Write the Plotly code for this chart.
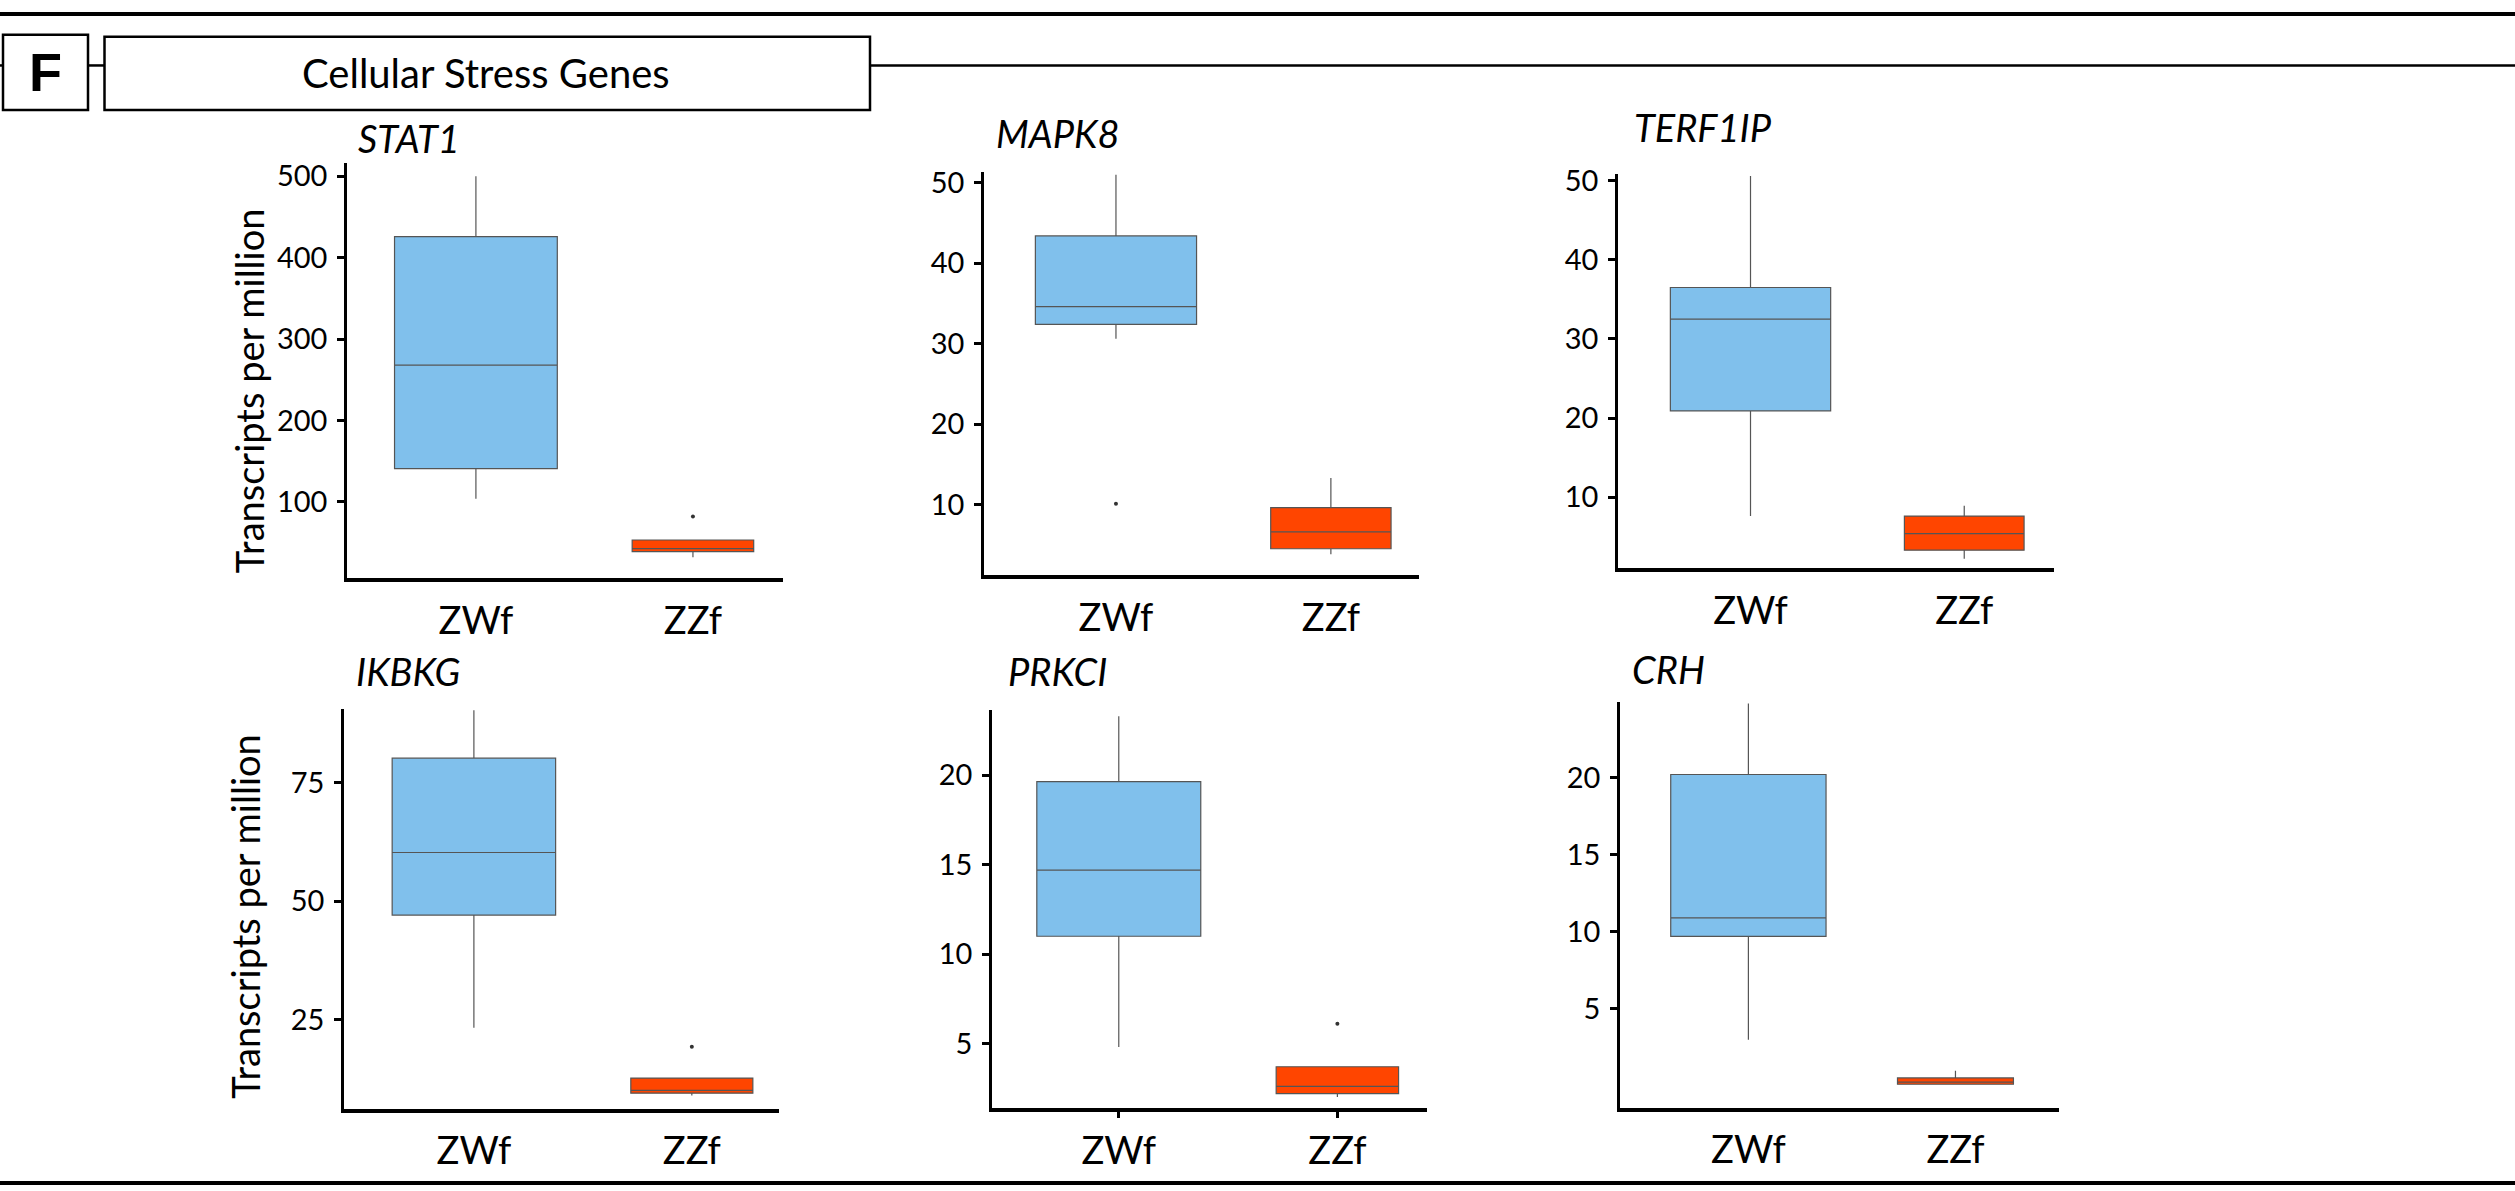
import plotly.graph_objects as go

W, H = 2515, 1191

# ---------------- data ----------------
genes = ["STAT1", "MAPK8", "TERF1IP", "IKBKG", "PRKCI", "CRH"]
groups = ["ZWf", "ZZf"]

zwf_lower = [104, 30.6, 7.6, 23.3, 4.8, 3.0]
zwf_q1 = [141, 32.4, 20.9, 47.1, 11.0, 9.7]
zwf_median = [268, 34.6, 32.5, 60.3, 14.7, 10.9]
zwf_q3 = [426, 43.4, 36.5, 80.2, 19.65, 20.2]
zwf_upper = [500, 51.0, 50.6, 90.3, 23.3, 24.8]

zzf_lower = [32, 3.8, 2.2, 9.0, 2.0, 0.1]
zzf_q1 = [39, 4.5, 3.3, 9.5, 2.2, 0.12]
zzf_median = [42.7, 6.6, 5.4, 10.1, 2.6, 0.26]
zzf_q3 = [53.3, 9.6, 7.6, 12.7, 3.7, 0.53]
zzf_upper = [53.3, 13.3, 8.9, 12.7, 3.7, 1.0]

zwf_outliers = [[], [10.1], [], [], [], []]
zzf_outliers = [[82], [], [], [19.3], [6.1], []]

y_tickvals = [
    [100, 200, 300, 400, 500],
    [10, 20, 30, 40, 50],
    [10, 20, 30, 40, 50],
    [25, 50, 75],
    [5, 10, 15, 20],
    [5, 10, 15, 20],
]
y_ranges = [[6.3, 515.8], [1.2, 51.3], [1.0, 50.8], [6.2, 90.6], [1.4, 23.66], [-1.41, 24.9]]
x_ranges = [[-0.594, 1.415], [-0.614, 1.41], [-0.62, 1.42], [-0.596, 1.40], [-0.58, 1.41], [-0.62, 1.5]]

panel_title = "Cellular Stress Genes"
panel_letter = "F"
y_title = "Transcripts per million"

# ---------------- layout constants (pixels) ----------------
# panel plot-area boxes: x0, x1, ytop, ybottom
boxes_px = [
    (347, 783, 153, 572),
    (984, 1419, 162, 569),
    (1618, 2054, 164, 562),
    (344, 779, 704, 1108),
    (992, 1427, 705, 1107),
    (1620, 2059, 697, 1107),
]
title_px = [(356, 127), (994, 122), (1632, 116), (354, 666), (1006, 666), (1630, 664)]
ylabel_px = [(249, 383), (245, 914)]

BLUE = "#80C0EC"
RED = "#FF4500"
EDGE = "#555555"
FONT = "Lato"

def px(x):
    return x / W

def py(y):
    return 1 - y / H

fig = go.Figure()

for i in range(6):
    xa = "x" if i == 0 else f"x{i+1}"
    ya = "y" if i == 0 else f"y{i+1}"
    fig.add_trace(go.Box(
        x=[groups[0]], q1=[zwf_q1[i]], median=[zwf_median[i]], q3=[zwf_q3[i]],
        lowerfence=[zwf_lower[i]], upperfence=[zwf_upper[i]],
        width=0.75, fillcolor=BLUE, line=dict(color=EDGE, width=1.2),
        whiskerwidth=0, boxpoints=False, xaxis=xa, yaxis=ya, hoverinfo="skip",
    ))
    fig.add_trace(go.Box(
        x=[groups[1]], q1=[zzf_q1[i]], median=[zzf_median[i]], q3=[zzf_q3[i]],
        lowerfence=[zzf_lower[i]], upperfence=[zzf_upper[i]],
        width=0.56, fillcolor=RED, line=dict(color=EDGE, width=1.2),
        whiskerwidth=0, boxpoints=False, xaxis=xa, yaxis=ya, hoverinfo="skip",
    ))
    for g, outs in ((groups[0], zwf_outliers[i]), (groups[1], zzf_outliers[i])):
        if outs:
            fig.add_trace(go.Scatter(
                x=[g] * len(outs), y=outs, mode="markers",
                marker=dict(size=4, color="#333333"), xaxis=xa, yaxis=ya,
                hoverinfo="skip",
            ))

layout = dict(
    width=W, height=H, margin=dict(l=0, r=0, t=0, b=0),
    paper_bgcolor="white", plot_bgcolor="white", showlegend=False,
    font=dict(family=FONT, color="black"),
)

for i in range(6):
    sx = "" if i == 0 else str(i + 1)
    x0, x1, yt, yb = boxes_px[i]
    has_ticks = (i == 4)
    layout["xaxis" + sx] = dict(
        domain=[px(x0), px(x1)], range=x_ranges[i], anchor="y" + sx,
        type="category", categoryorder="array", categoryarray=groups,
        showline=True, linecolor="black", linewidth=4, mirror=False,
        showgrid=False, zeroline=False,
        ticks="outside" if has_ticks else "", ticklen=6, tickwidth=2.5, tickcolor="black",
        tickfont=dict(family=FONT, size=38, color="black"),
        ticklabelstandoff=1 if has_ticks else 6,
    )
    layout["yaxis" + sx] = dict(
        domain=[py(yb), py(yt)], range=y_ranges[i], anchor="x" + sx,
        showline=True, linecolor="black", linewidth=2.5,
        showgrid=False, zeroline=False,
        ticks="outside", ticklen=7, tickwidth=3, tickcolor="black",
        tickvals=y_tickvals[i], tickfont=dict(family=FONT, size=29, color="black"),
        ticklabelstandoff=4,
    )

shapes = []
def hline(x0, x1, y, w):
    shapes.append(dict(type="line", xref="paper", yref="paper",
                       x0=px(x0), x1=px(x1), y0=py(y), y1=py(y),
                       line=dict(color="black", width=w)))

hline(0, W, 2, 4)
hline(0, 3, 54, 2.5)
hline(88, 104, 54, 2.5)
hline(870, W, 54, 2.5)
hline(0, W, 1183, 4)
shapes.append(dict(type="rect", xref="paper", yref="paper",
                   x0=px(3), x1=px(88), y0=py(99), y1=py(23),
                   line=dict(color="black", width=2.5), fillcolor="white"))
shapes.append(dict(type="rect", xref="paper", yref="paper",
                   x0=px(104.5), x1=px(870), y0=py(99), y1=py(25),
                   line=dict(color="black", width=2.5), fillcolor="white"))
layout["shapes"] = shapes

ann = []
ann.append(dict(text="<b>" + panel_letter + "</b>", x=px(45), y=py(61), xref="paper", yref="paper",
                showarrow=False, xanchor="center", yanchor="middle",
                font=dict(family="Liberation Sans", size=54, color="black")))
ann.append(dict(text=panel_title, x=px(486), y=py(62), xref="paper", yref="paper",
                showarrow=False, xanchor="center", yanchor="middle",
                font=dict(family=FONT, size=40, color="black")))
for i in range(6):
    tx, ty = title_px[i]
    ann.append(dict(text="<i>" + genes[i] + "</i>", x=px(tx), y=py(ty), xref="paper", yref="paper",
                    showarrow=False, xanchor="left", yanchor="middle",
                    font=dict(family=FONT, size=38, color="black")))
for (yx, yy) in ylabel_px:
    ann.append(dict(text=y_title, x=px(yx), y=py(yy), xref="paper", yref="paper",
                    showarrow=False, xanchor="center", yanchor="middle", textangle=-90,
                    font=dict(family=FONT, size=38, color="black")))
layout["annotations"] = ann

fig.update_layout(**layout)
fig.write_html("out.html")
